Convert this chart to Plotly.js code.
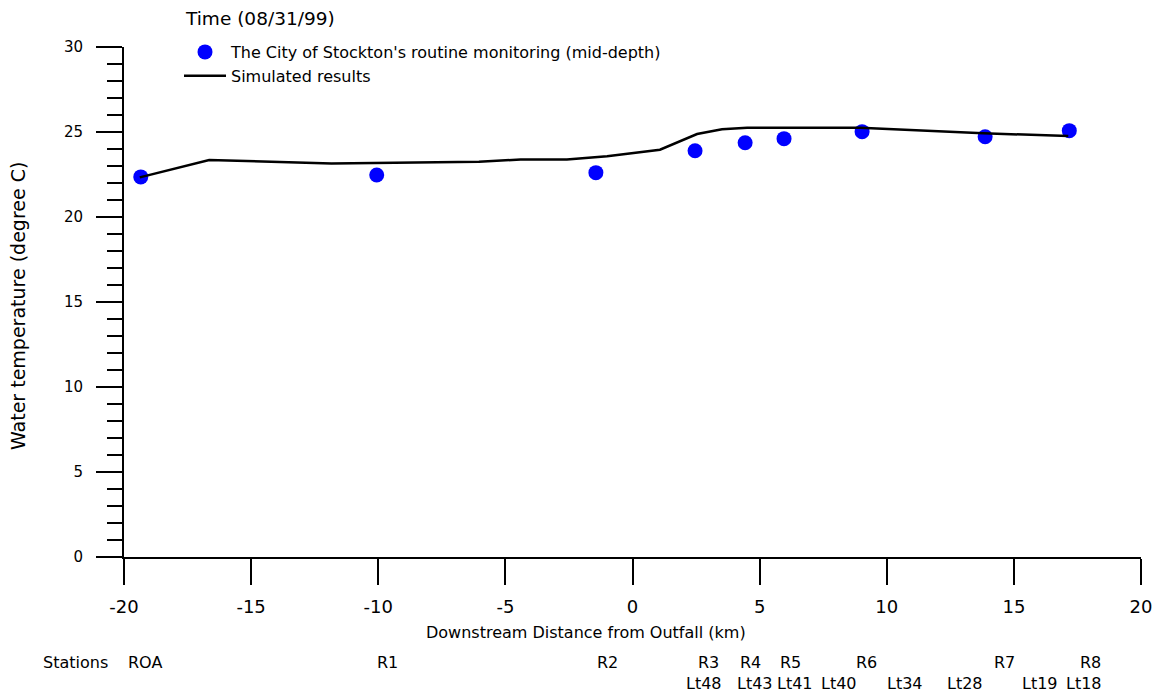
<!DOCTYPE html>
<html>
<head>
<meta charset="utf-8">
<script src="https://cdn.plot.ly/plotly-3.0.1.min.js"></script>
<style>
  html, body { margin: 0; padding: 0; background: #ffffff; }
  #chart { width: 1159px; height: 693px; }
</style>
</head>
<body>
<div id="chart"></div>
<script>
// Observed: City of Stockton routine monitoring (mid-depth)
var obsDistance = [-19.34, -10.06, -1.44, 2.46, 4.43, 5.96, 9.03, 13.87, 17.18];
var obsTemp     = [22.36, 22.47, 22.61, 23.90, 24.37, 24.61, 25.02, 24.72, 25.08];

// Simulated results
var simDistance = [-19.38, -16.65, -11.84, -6.04, -4.4, -2.58, -1.0, 1.08, 2.54, 3.52, 4.51, 8.95, 13.79, 16.04, 17.14];
var simTemp     = [22.33, 23.35, 23.15, 23.25, 23.38, 23.38, 23.58, 23.96, 24.88, 25.16, 25.25, 25.25, 24.92, 24.79, 24.77];

// Station labels (row 1 and row 2), positioned along the distance axis
var stationNames1 = ["ROA", "R1", "R2", "R3", "R4", "R5", "R6", "R7", "R8"];
var stationPos1   = [-19.19, -9.62, -1.0, 2.97, 4.63, 6.23, 9.19, 14.62, 18.0];
var stationNames2 = ["Lt48", "Lt43", "Lt41", "Lt40", "Lt34", "Lt28", "Lt19", "Lt18"];
var stationPos2   = [2.81, 4.81, 6.38, 8.13, 10.73, 13.09, 16.04, 17.77];

var xTickVals = [-20, -15, -10, -5, 0, 5, 10, 15, 20];
var yTickVals = [0, 5, 10, 15, 20, 25, 30];

var FONT = "DejaVu Sans, Liberation Sans, Arial, sans-serif";

var traces = [
  {
    x: obsDistance, y: obsTemp,
    type: "scatter", mode: "markers",
    name: "The City of Stockton's routine monitoring (mid-depth)",
    marker: { color: "#0000ff", size: 15, symbol: "circle", line: { width: 0 } }
  },
  {
    x: simDistance, y: simTemp,
    type: "scatter", mode: "lines",
    name: "Simulated results",
    line: { color: "#000000", width: 2.5 }
  }
];

var annotations = [];
annotations.push({
  text: "Stations", xref: "paper", yref: "paper",
  x: (75 - 124) / 1017, y: (557 - 662) / 510,
  xanchor: "center", yanchor: "middle", showarrow: false,
  font: { family: FONT, size: 16, color: "#000" }
});
for (var i = 0; i < stationNames1.length; i++) {
  annotations.push({
    text: stationNames1[i], xref: "x", yref: "paper",
    x: stationPos1[i], y: (557 - 662) / 510,
    xanchor: "center", yanchor: "middle", showarrow: false,
    font: { family: FONT, size: 16, color: "#000" }
  });
}
for (var j = 0; j < stationNames2.length; j++) {
  annotations.push({
    text: stationNames2[j], xref: "x", yref: "paper",
    x: stationPos2[j], y: (557 - 683) / 510,
    xanchor: "center", yanchor: "middle", showarrow: false,
    font: { family: FONT, size: 16, color: "#000" }
  });
}
annotations.push({
  text: "Downstream Distance from Outfall (km)", xref: "paper", yref: "paper",
  x: (586 - 124) / 1017, y: (557 - 632) / 510,
  xanchor: "center", yanchor: "middle", showarrow: false,
  font: { family: FONT, size: 16, color: "#000" }
});
annotations.push({
  text: "Water temperature (degree C)", xref: "paper", yref: "paper",
  x: (18 - 124) / 1017, y: (557 - 306) / 510,
  xanchor: "center", yanchor: "middle", showarrow: false, textangle: -90,
  font: { family: FONT, size: 19, color: "#000" }
});

var layout = {
  width: 1159, height: 693,
  margin: { l: 124, r: 18, t: 47, b: 136, pad: 0 },
  paper_bgcolor: "#ffffff", plot_bgcolor: "#ffffff",
  showlegend: true,
  title: {
    text: "Time (08/31/99)",
    xref: "container", yref: "container",
    x: 186 / 1159, xanchor: "left",
    y: 1 - 19 / 693, yanchor: "middle",
    font: { family: FONT, size: 18.5, color: "#000" }
  },
  legend: {
    x: (179 - 124) / 1017, xanchor: "left",
    y: (557 - 35) / 510, yanchor: "top",
    bgcolor: "rgba(0,0,0,0)", borderwidth: 0,
    font: { family: FONT, size: 16, color: "#000" },
    itemwidth: 42,
    tracegroupgap: 0
  },
  xaxis: {
    range: [-20, 20], tickmode: "array", tickvals: xTickVals,
    ticktext: xTickVals.map(String),
    showline: true, linecolor: "#000", linewidth: 2,
    ticks: "outside", ticklen: 26, tickwidth: 2, tickcolor: "#000",
    showgrid: false, zeroline: false,
    ticklabelstandoff: 6,
    tickfont: { family: FONT, size: 18, color: "#000" },
    fixedrange: true
  },
  yaxis: {
    range: [0, 30], tickmode: "array", tickvals: yTickVals,
    ticktext: yTickVals.map(String),
    showline: true, linecolor: "#000", linewidth: 2,
    ticks: "outside", ticklen: 26, tickwidth: 2, tickcolor: "#000",
    minor: { dtick: 1, ticks: "outside", ticklen: 15, tickwidth: 2, tickcolor: "#000", showgrid: false },
    showgrid: false, zeroline: false,
    ticklabelstandoff: 10,
    tickfont: { family: FONT, size: 15, color: "#000" },
    fixedrange: true
  },
  annotations: annotations
};

Plotly.newPlot("chart", traces, layout, { displayModeBar: false, staticPlot: true });
</script>
</body>
</html>
